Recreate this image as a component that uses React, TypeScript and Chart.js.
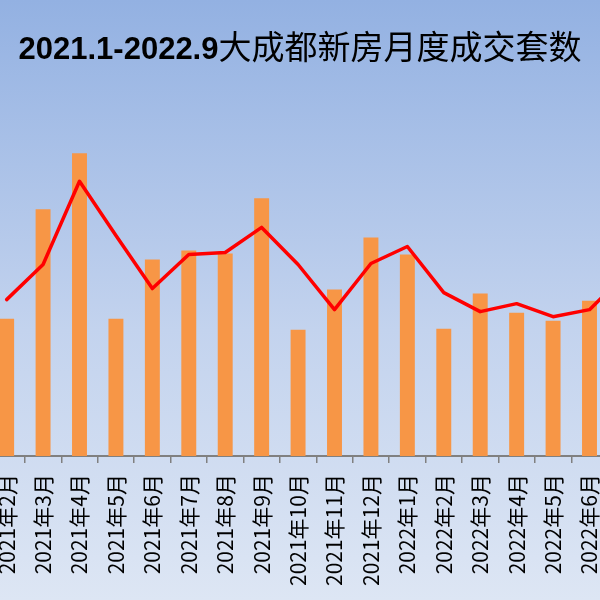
import React, { useEffect, useRef } from "react";
import { Chart, registerables } from "chart.js";

Chart.register(...registerables);

const months = [
  "2021年1月", "2021年2月", "2021年3月", "2021年4月", "2021年5月", "2021年6月", "2021年7月",
  "2021年8月", "2021年9月", "2021年10月", "2021年11月", "2021年12月", "2022年1月", "2022年2月",
  "2022年3月", "2022年4月", "2022年5月", "2022年6月", "2022年7月", "2022年8月", "2022年9月",
];

const dealCounts = [
  14000, 10960, 19680, 24160, 10960, 15680, 16400, 16160, 20560, 10080, 13280,
  17440, 16080, 10160, 12960, 11440, 10800, 12400, 16720, 13600, 12000,
];

const movingAverage = [
  null, 12480, 15280, 21920, 17600, 13360, 16080, 16240, 18240, 15280, 11680,
  15360, 16720, 13040, 11520, 12160, 11120, 11680, 14560, 15160, 12800,
];

const yMin = 0;
const yMax = 30000;

const titleNumbers = "2021.1-2022.9";
const titleText = "大成都新房月度成交套数";

export default function App() {
  const ref = useRef<HTMLCanvasElement>(null);

  useEffect(() => {
    const chart = new Chart(ref.current as HTMLCanvasElement, {
      data: {
        labels: months,
        datasets: [
          {
            type: "line",
            data: movingAverage as any,
            borderColor: "#ff0000",
            borderWidth: 3.5,
            pointRadius: 0,
            tension: 0,
            borderJoinStyle: "round",
            borderCapStyle: "round",
            order: 0,
          } as any,
          {
            type: "bar",
            data: dealCounts,
            backgroundColor: "#f79646",
            barPercentage: 0.41,
            categoryPercentage: 1,
            order: 1,
          } as any,
        ],
      },
      options: {
        animation: false,
        responsive: false,
        maintainAspectRatio: false,
        devicePixelRatio: 1,
        layout: { padding: { top: 80, bottom: 0, left: 0, right: 0 } },
        plugins: {
          legend: { display: false },
          tooltip: { enabled: false },
          title: { display: false },
        },
        scales: {
          x: {
            offset: true,
            afterFit: (scale: any) => {
              scale.paddingLeft = 0;
              scale.paddingRight = 0;
            },
            grid: {
              offset: true,
              drawOnChartArea: false,
              drawTicks: true,
              tickLength: 7,
              color: "#808080",
              lineWidth: 1.5,
            },
            border: { color: "#808080", width: 2 },
            ticks: {
              minRotation: 90,
              maxRotation: 90,
              autoSkip: false,
              padding: 11,
              color: "#000000",
              font: { family: "'Noto Sans CJK SC', sans-serif", size: 21 },
            },
          },
          y: { display: false, min: yMin, max: yMax },
        },
      },
    });
    return () => chart.destroy();
  }, []);

  return (
    <div
      style={{
        position: "fixed",
        left: 0,
        top: 0,
        width: 600,
        height: 600,
        overflow: "hidden",
        background: "linear-gradient(to bottom, #93b1e2 0%, #c3d3ee 55%, #dde6f4 100%)",
      }}
    >
      <canvas
        ref={ref}
        width={765}
        height={597}
        style={{ position: "absolute", left: -48, top: 0, width: 765, height: 597 }}
      />
      <div
        style={{
          position: "absolute",
          left: 0,
          top: 25,
          width: 600,
          textAlign: "center",
          whiteSpace: "nowrap",
          color: "#000",
          lineHeight: "40px",
        }}
      >
        <span style={{ fontFamily: "'Liberation Sans', Arial, sans-serif", fontWeight: "bold", fontSize: 31 }}>
          {titleNumbers}
        </span>
        <span style={{ fontFamily: "'Noto Sans CJK SC', sans-serif", fontWeight: 400, fontSize: 33 }}>
          {titleText}
        </span>
      </div>
    </div>
  );
}
